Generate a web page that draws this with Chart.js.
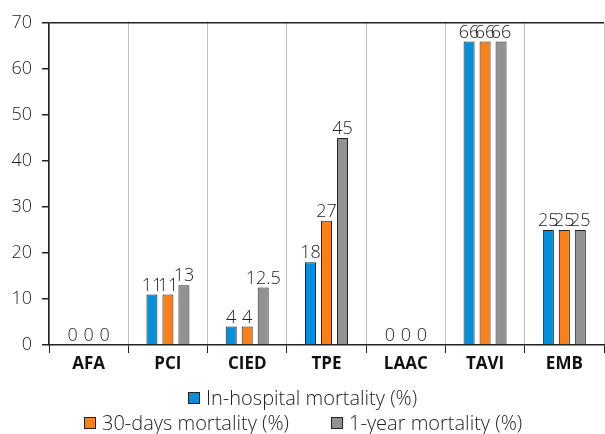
<!DOCTYPE html>
<html>
<head>
<meta charset="utf-8">
<script src="https://cdn.jsdelivr.net/npm/chart.js@4"></script>
<style>
  html, body { margin: 0; padding: 0; background: #fff; }
  #wrap { width: 605px; height: 434px; position: relative; }
</style>
</head>
<body>
<div id="wrap"><canvas id="chart"></canvas></div>
<script>
const categories = ["AFA", "PCI", "CIED", "TPE", "LAAC", "TAVI", "EMB"];
const seriesNames = ["In-hospital mortality (%)", "30-days mortality (%)", "1-year mortality (%)"];
const inHospital = [0, 11, 4, 18, 0, 66, 25];
const thirtyDays = [0, 11, 4, 27, 0, 66, 25];
const oneYear = [0, 13, 12.5, 45, 0, 66, 25];
const yTicks = [0, 10, 20, 30, 40, 50, 60, 70];

const colors = ["#0a8fd6", "#f5821f", "#929292"];
const fontFamily = "'Open Sans', 'Noto Sans', sans-serif";
const textColor = "#1e1e1e";

// value labels above each bar
const valueLabels = {
    id: "valueLabels",
    afterDatasetsDraw(chart) {
        const ctx = chart.ctx;
        ctx.save();
        ctx.font = "300 18px " + fontFamily;
        ctx.fillStyle = textColor;
        ctx.textAlign = "center";
        ctx.textBaseline = "bottom";
        chart.data.datasets.forEach((ds, i) => {
            chart.getDatasetMeta(i).data.forEach((bar, j) => {
                ctx.fillText(String(ds.data[j]), bar.x, bar.y);
            });
        });
        ctx.restore();
    }
};

// two-row legend like the original
const rowLegend = {
    id: "rowLegend",
    afterDraw(chart) {
        const ctx = chart.ctx;
        const rows = [[0], [1, 2]];
        const rowY = [398, 423];
        const box = 12, gap = 6, itemGap = 42;
        ctx.save();
        ctx.font = "300 20px " + fontFamily;
        ctx.textBaseline = "middle";
        rows.forEach((row, r) => {
            const widths = row.map(i => box + gap + ctx.measureText(chart.data.datasets[i].label).width);
            const total = widths.reduce((a, b) => a + b, 0) + itemGap * (row.length - 1);
            let x = Math.round(303 - total / 2);
            row.forEach((i, k) => {
                const y = rowY[r];
                ctx.fillStyle = colors[i];
                ctx.fillRect(x, y - box / 2, box, box);
                ctx.strokeStyle = "#222";
                ctx.lineWidth = 1;
                ctx.strokeRect(x + 0.5, y - box / 2 + 0.5, box - 1, box - 1);
                ctx.fillStyle = textColor;
                ctx.textAlign = "left";
                ctx.fillText(chart.data.datasets[i].label, x + box + gap, y + 1);
                x += widths[k] + itemGap;
            });
        });
        ctx.restore();
    }
};

const seriesData = [inHospital, thirtyDays, oneYear];

new Chart(document.getElementById("chart").getContext("2d"), {
    type: "bar",
    data: {
        labels: categories,
        datasets: seriesData.map((d, i) => ({
            label: seriesNames[i],
            data: d,
            backgroundColor: colors[i],
            borderColor: "#222",
            borderWidth: 1,
            categoryPercentage: 0.605,
            barPercentage: 0.69
        }))
    },
    options: {
        responsive: true,
        maintainAspectRatio: false,
        animation: false,
        layout: { padding: { top: 23, right: 1, bottom: 54, left: 0 } },
        plugins: {
            legend: { display: false },
            tooltip: { enabled: false }
        },
        scales: {
            x: {
                grid: {
                    offset: true,
                    color: "#c0c0c0",
                    tickColor: "#222",
                    tickLength: 8
                },
                border: { color: "#222", width: 1.5 },
                ticks: {
                    color: "#111",
                    font: { family: fontFamily, size: 17, weight: "bold" },
                    padding: 1
                },
                afterFit(scale) { scale.height = 35; }
            },
            y: {
                min: 0,
                max: 70,
                afterBuildTicks(scale) { scale.ticks = yTicks.map(v => ({ value: v })); },
                grid: {
                    color: ctx => ctx.tick && ctx.tick.value === 70 ? "#222" : "transparent",
                    tickColor: "#222",
                    tickLength: 7,
                    lineWidth: 1.5
                },
                border: { color: "#222", width: 1.5 },
                ticks: {
                    color: textColor,
                    font: { family: fontFamily, size: 18, weight: 300 },
                    padding: 10
                },
                afterFit(scale) { scale.width = 49; }
            }
        }
    },
    plugins: [valueLabels, rowLegend]
});
</script>
</body>
</html>
